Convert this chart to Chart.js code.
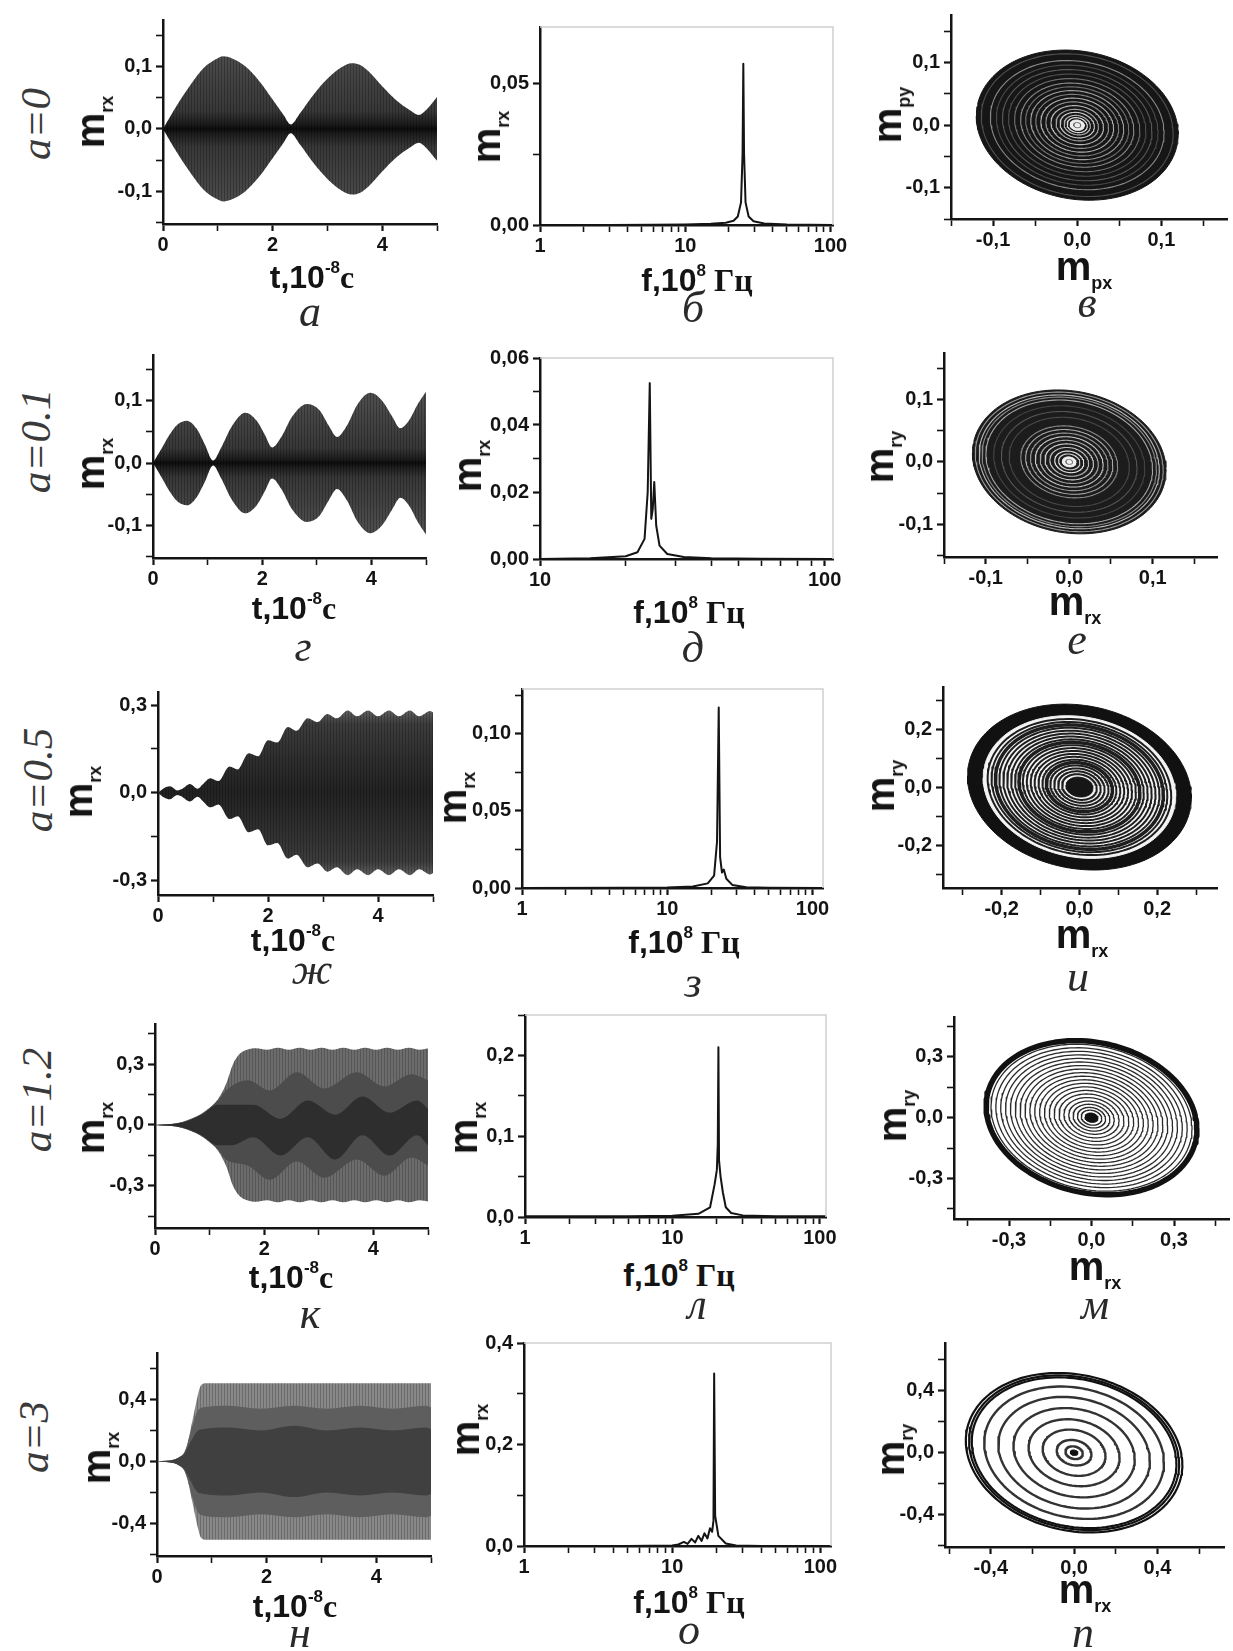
<!DOCTYPE html>
<html>
<head>
<meta charset="utf-8">
<script src="https://cdn.jsdelivr.net/npm/chart.js@4.4.1/dist/chart.umd.min.js"></script>
<style>
  body { margin: 0; background: #fff; }
  #page { position: relative; width: 1233px; height: 1651px; overflow: hidden; background: #fff; }
  canvas { position: absolute; }
  .txt { position: absolute; white-space: nowrap; line-height: 1; transform: translate(-50%, -50%); color: #141414; }
  .rot { transform: translate(-50%, -50%) rotate(-90deg); }
  .sans { font-family: "Liberation Sans", Arial, sans-serif; font-weight: bold; }
  .serif { font-family: "Liberation Serif", "Times New Roman", serif; font-weight: bold; }
  .row { font-family: "Liberation Serif", serif; font-style: italic; font-size: 43px; color: #3a3a3a; }
  .let { font-family: "Liberation Serif", serif; font-style: italic; font-size: 44px; color: #2a2a2a; }
  .m { font-size: 40px; }
  .sub { font-size: 18px; position: relative; top: 9px; }
  .sup { font-size: 17px; position: relative; top: -15px; }
  .tt { font-size: 32px; }
</style>
</head>
<body>
<div id="page"></div>
<script>
// ---------- time signals: upper envelope of m_rx, t in 10^-8 s ----------
const tA   = [0, 0.25, 0.5, 0.75, 1.0, 1.1, 1.25, 1.5, 1.75, 2.0, 2.2, 2.33, 2.5, 2.75, 3.0, 3.25, 3.45, 3.6, 3.75, 4.0, 4.25, 4.5, 4.67, 4.8, 5.0];
const envA = [0, 0.037, 0.07, 0.098, 0.113, 0.116, 0.113, 0.1, 0.077, 0.047, 0.022, 0.007, 0.025, 0.055, 0.08, 0.098, 0.105, 0.102, 0.092, 0.068, 0.046, 0.03, 0.022, 0.03, 0.051];

const tG   = [0, 0.15, 0.3, 0.45, 0.62, 0.8, 0.95, 1.1, 1.25, 1.45, 1.69, 1.9, 2.05, 2.18, 2.35, 2.55, 2.82, 3.05, 3.22, 3.37, 3.55, 3.75, 3.98, 4.2, 4.38, 4.53, 4.7, 4.85, 5.0];
const envG = [0, 0.022, 0.045, 0.062, 0.068, 0.055, 0.03, 0.004, 0.025, 0.06, 0.081, 0.068, 0.045, 0.025, 0.042, 0.075, 0.095, 0.085, 0.06, 0.042, 0.06, 0.095, 0.113, 0.1, 0.075, 0.056, 0.07, 0.095, 0.115];

const tZh   = [0, 0.1, 0.22, 0.35, 0.45, 0.58, 0.72, 0.82, 0.95, 1.1, 1.3, 1.45, 1.65, 1.82, 2.0, 2.17, 2.36, 2.52, 2.72, 2.9, 3.08, 3.25, 3.45, 3.62, 3.82, 4.0, 4.2, 4.38, 4.58, 4.75, 4.95, 5.0];
const envZh = [0, 0.015, 0.022, 0.008, 0.015, 0.03, 0.014, 0.03, 0.05, 0.04, 0.09, 0.08, 0.135, 0.125, 0.18, 0.172, 0.225, 0.212, 0.255, 0.242, 0.27, 0.255, 0.282, 0.262, 0.282, 0.262, 0.282, 0.262, 0.282, 0.262, 0.28, 0.275];

const tK   = [0, 0.3, 0.5, 0.7, 0.85, 1.0, 1.15, 1.3, 1.43, 1.55, 1.7, 1.85, 2.05, 2.25, 2.45, 2.65, 2.85, 3.05, 3.25, 3.45, 3.65, 3.85, 4.05, 4.25, 4.45, 4.65, 4.85, 5.0];
const envK = [0, 0.005, 0.015, 0.035, 0.055, 0.085, 0.125, 0.2, 0.3, 0.35, 0.372, 0.378, 0.37, 0.38, 0.37, 0.38, 0.37, 0.38, 0.37, 0.38, 0.37, 0.38, 0.37, 0.38, 0.37, 0.38, 0.37, 0.376];
const tKmid  = [0, 0.5, 0.85, 1.15, 1.3, 1.7, 2.1, 2.6, 3.1, 3.7, 4.2, 4.7, 5.0];
const kMidUp = [0, 0.013, 0.053, 0.12, 0.17, 0.22, 0.17, 0.26, 0.18, 0.26, 0.19, 0.25, 0.22];
const kMidLo = [0, -0.013, -0.053, -0.12, -0.17, -0.2, -0.27, -0.18, -0.26, -0.17, -0.25, -0.16, -0.2];
const tKcore  = [0, 0.5, 0.85, 1.15, 1.4, 1.8, 2.3, 2.8, 3.3, 3.8, 4.3, 4.8, 5.0];
const kCoreUp = [0, 0.012, 0.05, 0.1, 0.1, 0.1, 0.03, 0.12, 0.05, 0.14, 0.06, 0.12, 0.08];
const kCoreLo = [0, -0.012, -0.05, -0.1, -0.1, -0.06, -0.15, -0.06, -0.17, -0.05, -0.15, -0.05, -0.1];

const tN   = [0, 0.2, 0.32, 0.42, 0.5, 0.56, 0.62, 0.68, 0.74, 0.8, 0.9, 1.5, 2.0, 2.5, 3.0, 3.5, 4.0, 4.5, 5.0];
const envN = [0, 0.004, 0.012, 0.03, 0.06, 0.12, 0.22, 0.32, 0.42, 0.49, 0.505, 0.505, 0.505, 0.505, 0.505, 0.505, 0.505, 0.505, 0.505];
const tNin  = [0, 0.32, 0.42, 0.5, 0.56, 0.62, 0.68, 0.75, 0.85, 1.3, 1.9, 2.5, 3.1, 3.7, 4.3, 4.9, 5.0];
const nMid  = [0, 0.012, 0.03, 0.06, 0.12, 0.2, 0.27, 0.33, 0.35, 0.36, 0.34, 0.36, 0.34, 0.36, 0.34, 0.36, 0.35];
const nCore = [0, 0.012, 0.03, 0.05, 0.09, 0.13, 0.17, 0.2, 0.21, 0.22, 0.2, 0.23, 0.2, 0.22, 0.2, 0.22, 0.21];

// ---------- spectra, f in 10^8 Hz ----------
const fB    = [1, 3, 6, 10, 15, 19, 21.5, 23, 24.2, 24.8, 25.1, 25.4, 26, 27.3, 29.5, 35, 50, 104];
const specB = [0, 0, 0.0001, 0.0002, 0.0004, 0.0008, 0.0015, 0.003, 0.008, 0.025, 0.057, 0.025, 0.008, 0.003, 0.0013, 0.0005, 0.0002, 0];
const fD    = [10, 15, 20, 22, 23.3, 23.9, 24.3, 24.6, 24.9, 25.2, 25.6, 26.3, 28, 32, 40, 60, 107];
const specD = [0, 0.0002, 0.0008, 0.002, 0.006, 0.02, 0.0525, 0.012, 0.015, 0.023, 0.01, 0.004, 0.0015, 0.0006, 0.0002, 0.0001, 0];
const fZ    = [1, 5, 10, 15, 19, 21, 22, 22.6, 23.1, 23.8, 24.5, 25.5, 28, 35, 50, 120];
const specZ = [0, 0.0001, 0.0003, 0.001, 0.003, 0.008, 0.03, 0.117, 0.02, 0.01, 0.012, 0.006, 0.002, 0.0005, 0.0002, 0];
const fL    = [1, 5, 10, 15, 18, 19.3, 20, 20.3, 20.5, 20.7, 21.2, 22, 23, 25, 30, 50, 110];
const specL = [0.001, 0.001, 0.0015, 0.004, 0.012, 0.04, 0.058, 0.09, 0.21, 0.07, 0.05, 0.03, 0.012, 0.005, 0.002, 0.001, 0.001];
const fO    = [1, 5, 10, 11, 12, 12.7, 13.5, 14.3, 15, 15.8, 16.5, 17.3, 18, 18.6, 19, 19.2, 19.5, 20.5, 23, 27, 40, 118];
const specO = [0, 0, 0.001, 0.003, 0.008, 0.004, 0.014, 0.007, 0.02, 0.01, 0.025, 0.015, 0.035, 0.028, 0.05, 0.34, 0.06, 0.02, 0.005, 0.001, 0, 0];

// ---------- phase portraits: outer orbit half-axes, phase lag, loop radii (fraction of outer) ----------
const orbV = [0.12, 0.12];   const lagV = 0.12;
const ringsV = [0.95, 0.86, 0.8, 0.74, 0.68, 0.62, 0.56, 0.51, 0.46, 0.41, 0.36, 0.31, 0.26, 0.21, 0.17, 0.13, 0.1];
const orbE = [0.116, 0.115]; const lagE = 0.12;
const ringsE = [0.97, 0.93, 0.9, 0.86, 0.78, 0.7, 0.62, 0.5, 0.45, 0.4, 0.35, 0.3, 0.25, 0.2, 0.15, 0.11];
const orbI = [0.288, 0.286]; const lagI = 0.13;
const ringsI = [0.82, 0.785, 0.75, 0.715, 0.68, 0.645, 0.61, 0.575, 0.54, 0.505, 0.47, 0.435, 0.4, 0.365, 0.33, 0.295, 0.26, 0.225, 0.19, 0.155];
const orbM = [0.393, 0.39];  const lagM = 0.15;
const ringsM = [0.975, 0.93, 0.885, 0.84, 0.795, 0.75, 0.705, 0.66, 0.615, 0.57, 0.525, 0.48, 0.435, 0.39, 0.345, 0.3, 0.255, 0.21, 0.17, 0.13, 0.095];
const orbP = [0.52, 0.516];  const lagP = 0.15;
const ringsP = [1.0, 0.97, 0.945, 0.83, 0.7, 0.56, 0.42, 0.29, 0.16, 0.08];

// ---------- ticks ----------
const ticksT = [0, 2, 4],            minorT = [1, 3, 5];
const ticksLog = [1, 10, 100],       minorLog = [2, 3, 4, 5, 6, 7, 8, 9, 20, 30, 40, 50, 60, 70, 80, 90];
const ticks01 = [-0.1, 0, 0.1],      minor01 = [-0.15, -0.05, 0.05, 0.15];
const ticksB = [0, 0.05],            minorB = [0.025];
const ticksD = [0, 0.02, 0.04, 0.06], minorD = [0.01, 0.03, 0.05];
const ticks03 = [-0.3, 0, 0.3],      minor03 = [-0.45, -0.15, 0.15, 0.45];
const ticksZ = [0, 0.05, 0.1],       minorZ = [0.025, 0.075, 0.125];
const ticks02 = [-0.2, 0, 0.2],      minor02 = [-0.3, -0.1, 0.1, 0.3];
const ticksL = [0, 0.1, 0.2],        minorL = [0.05, 0.15, 0.25];
const ticks04 = [-0.4, 0, 0.4],      minor04 = [-0.6, -0.2, 0.2, 0.6];
const ticksO = [0, 0.2, 0.4],        minorO = [0.1, 0.3];

// ---------- layout ----------
const YW = 62, XH = 36, PT = 16, PR = 26, PB = 2;
const INK = '#141414';
const TICK_FONT = { family: '"Liberation Sans", Arial, sans-serif', size: 20, weight: 'bold' };
const page = document.getElementById('page');

function fmt(v, d) {
  if (d === null) return String(v);
  return (Math.abs(v) < 1e-9 ? 0 : v).toFixed(d).replace('.', ',');
}

function axis(pos, type, min, max, major, minor, dec) {
  const list = major.concat(minor).filter(v => v >= min - 1e-9 && v <= max + 1e-9).sort((a, b) => a - b);
  const isMajor = v => major.some(m => Math.abs(m - v) < 1e-9);
  return {
    type: type, position: pos, min: min, max: max,
    afterBuildTicks: s => { s.ticks = list.map(v => ({ value: v })); },
    afterFit: s => {
      if (pos === 'left') s.width = YW; else s.height = XH;
      s.paddingLeft = s.paddingRight = s.paddingTop = s.paddingBottom = 0;
    },
    ticks: {
      autoSkip: false, maxRotation: 0, minRotation: 0, padding: pos === 'left' ? 4 : 2,
      color: INK, font: TICK_FONT,
      callback: v => isMajor(v) ? fmt(v, dec) : ''
    },
    grid: {
      drawOnChartArea: false, drawTicks: true, tickLength: 7, tickColor: INK,
      tickWidth: c => (c.tick && isMajor(c.tick.value)) ? 2.2 : 1.6
    },
    border: { display: true, color: INK, width: 2.5 }
  };
}

// light frame on the top and right of the spectrum panels
const framePlugin = {
  id: 'frame',
  afterDatasetsDraw(chart) {
    const { ctx, chartArea: a } = chart;
    ctx.save();
    ctx.strokeStyle = '#cfcfcf';
    ctx.lineWidth = 1.5;
    ctx.beginPath();
    ctx.moveTo(a.left, a.top);
    ctx.lineTo(a.right, a.top);
    ctx.lineTo(a.right, a.bottom);
    ctx.stroke();
    ctx.restore();
  }
};

function makeChart(box, xAx, yAx, datasets, framed) {
  const [L, T, R, B] = box;
  const w = R - L + YW + PR, h = B - T + PT + XH + PB;
  const cv = document.createElement('canvas');
  cv.width = w; cv.height = h;
  cv.style.left = (L - YW) + 'px'; cv.style.top = (T - PT) + 'px';
  cv.style.width = w + 'px'; cv.style.height = h + 'px';
  page.appendChild(cv);
  return new Chart(cv, {
    type: 'line',
    data: { datasets: datasets },
    options: {
      responsive: false, animation: false, devicePixelRatio: 1,
      layout: { padding: { left: 0, top: PT, right: PR, bottom: PB } },
      plugins: { legend: { display: false }, tooltip: { enabled: false }, title: { display: false } },
      elements: { point: { radius: 0, hoverRadius: 0 }, line: { borderCapStyle: 'round', borderJoinStyle: 'round' } },
      events: [],
      scales: { x: xAx, y: yAx }
    },
    plugins: framed ? [framePlugin] : []
  });
}

// ---------- dataset builders ----------
let ord = 1000;
const pts = (xs, ys) => xs.map((x, i) => ({ x: x, y: ys[i] }));
const neg = a => a.map(v => -v);

function band(xs, up, lo, color) {
  const o = ord--;
  return [
    { data: pts(xs, up), fill: '+1', backgroundColor: color, borderColor: 'transparent', borderWidth: 0, order: o, cubicInterpolationMode: 'monotone' },
    { data: pts(xs, lo), fill: false, borderColor: 'transparent', borderWidth: 0, order: o, cubicInterpolationMode: 'monotone' }
  ];
}

function vGrad(stops, vTop, vBot) {
  return c => {
    const ch = c.chart;
    if (!ch.chartArea || !ch.scales.y) return stops[0][1];
    const y = ch.scales.y;
    const g = ch.ctx.createLinearGradient(0, y.getPixelForValue(vTop), 0, y.getPixelForValue(vBot));
    stops.forEach(s => g.addColorStop(s[0], s[1]));
    return g;
  };
}

function stripes(alpha) {
  const c = document.createElement('canvas');
  c.width = 3; c.height = 4;
  const g = c.getContext('2d');
  g.fillStyle = 'rgba(0,0,0,' + alpha + ')';
  g.fillRect(0, 0, 1, 4);
  return g.createPattern(c, 'repeat');
}

const NSEG = 140;
function loop(orb, lag, f) {
  const p = [];
  for (let k = 0; k <= NSEG; k++) {
    const th = 2 * Math.PI * k / NSEG;
    p.push({ x: f * orb[0] * Math.cos(th), y: f * orb[1] * Math.sin(th - lag) });
  }
  return p;
}
function halfLoop(orb, lag, f, upper) {
  const p = [];
  for (let k = 0; k <= NSEG / 2; k++) {
    const th = (upper ? 0 : Math.PI) + Math.PI * k / (NSEG / 2);
    p.push({ x: f * orb[0] * Math.cos(th), y: f * orb[1] * Math.sin(th - lag) });
  }
  return p.sort((a, b) => a.x - b.x);
}
function disc(orb, lag, f, color) {
  const o = ord--;
  return [
    { data: halfLoop(orb, lag, f, true), fill: '+1', backgroundColor: color, borderColor: color, borderWidth: 1, order: o },
    { data: halfLoop(orb, lag, f, false), fill: false, borderColor: color, borderWidth: 1, order: o }
  ];
}
function ring(orb, lag, f, color, width) {
  return { data: loop(orb, lag, f), fill: false, borderColor: color, borderWidth: width, order: ord-- };
}
function spectrum(fs, ss) {
  return [{ data: pts(fs, ss), fill: false, borderColor: INK, borderWidth: 2, order: ord-- }];
}

// ---------- text ----------
function put(html, x, y, cls) {
  const d = document.createElement('div');
  d.className = 'txt ' + cls;
  d.innerHTML = html;
  d.style.left = x + 'px'; d.style.top = y + 'px';
  page.appendChild(d);
}
const yTitle = s => '<span class="m">m</span><span class="sub">' + s + '</span>';
const tTitle = '<span class="tt">t,10</span><span class="sup">-8</span><span class="tt serif">с</span>';
const fTitle = '<span class="tt">f,10</span><span class="sup">8</span><span class="tt serif"> Гц</span>';

// ---------- shared fills ----------
const darkA = [[0, '#4c4c4c'], [0.38, '#383838'], [0.47, '#1c1c1c'], [0.5, '#0c0c0c'], [0.53, '#1c1c1c'], [0.62, '#383838'], [1, '#4c4c4c']];
const darkZh = [[0, '#5e5e5e'], [0.08, '#3c3c3c'], [0.3, '#2e2e2e'], [0.5, '#222'], [0.7, '#2e2e2e'], [0.92, '#3c3c3c'], [1, '#5e5e5e']];

// ===== row 1: a = 0 =====
makeChart([163, 20, 437, 224],
  axis('bottom', 'linear', 0, 5, ticksT, minorT, 0),
  axis('left', 'linear', -0.152, 0.174, ticks01, minor01, 1),
  [].concat(band(tA, envA, neg(envA), vGrad(darkA, 0.12, -0.12)), band(tA, envA, neg(envA), stripes(0.25))));

makeChart([540, 27, 833, 225],
  axis('bottom', 'logarithmic', 1, 104, ticksLog, minorLog, null),
  axis('left', 'linear', 0, 0.07, ticksB, minorB, 2),
  spectrum(fB, specB), true);

const shadesV = ['#505050', '#8a8a8a', '#4a4a4a', '#5a5a5a', '#4e4e4e', '#6e6e6e', '#8c8c8c', '#707070', '#a0a0a0', '#808080', '#b0b0b0', '#909090', '#b8b8b8', '#a0a0a0', '#c8c8c8', '#b0b0b0', '#d8d8d8'];
makeChart([951, 15, 1227, 219],
  axis('bottom', 'linear', -0.15, 0.178, ticks01, minor01, 1),
  axis('left', 'linear', -0.15, 0.176, ticks01, minor01, 1),
  [].concat(disc(orbV, lagV, 1.0, '#161616'),
            ringsV.map((f, i) => ring(orbV, lagV, f, shadesV[i], 1.1)),
            disc(orbV, lagV, 0.07, '#ececec'),
            [ring(orbV, lagV, 0.035, '#666', 1)]));

// ===== row 2: a = 0.1 =====
makeChart([153, 355, 426, 558],
  axis('bottom', 'linear', 0, 5, ticksT, minorT, 0),
  axis('left', 'linear', -0.153, 0.174, ticks01, minor01, 1),
  [].concat(band(tG, envG, neg(envG), vGrad(darkA, 0.1, -0.1)), band(tG, envG, neg(envG), stripes(0.25))));

makeChart([540, 358, 833, 559],
  axis('bottom', 'logarithmic', 10, 107, ticksLog, minorLog, null),
  axis('left', 'linear', 0, 0.06, ticksD, minorD, 2),
  spectrum(fD, specD), true);

const shadesE = ['#9a9a9a', '#bbbbbb', '#8a8a8a', '#a8a8a8', '#444444', '#555555', '#484848', '#8a8a8a', '#aaaaaa', '#999999', '#c8c8c8', '#aaaaaa', '#cccccc', '#bbbbbb', '#dddddd', '#cccccc'];
makeChart([944, 353, 1217, 557],
  axis('bottom', 'linear', -0.15, 0.177, ticks01, minor01, 1),
  axis('left', 'linear', -0.152, 0.174, ticks01, minor01, 1),
  [].concat(disc(orbE, lagE, 1.0, '#1c1c1c'),
            ringsE.map((f, i) => ring(orbE, lagE, f, shadesE[i], 1.1)),
            disc(orbE, lagE, 0.07, '#f0f0f0'),
            [ring(orbE, lagE, 0.035, '#777', 1)]));

// ===== row 3: a = 0.5 =====
makeChart([158, 692, 433, 895],
  axis('bottom', 'linear', 0, 5, ticksT, minorT, 0),
  axis('left', 'linear', -0.35, 0.345, ticks03, minor03, 1),
  [].concat(band(tZh, envZh, neg(envZh), vGrad(darkZh, 0.28, -0.28)), band(tZh, envZh, neg(envZh), stripes(0.22))));

makeChart([522, 689, 823, 888],
  axis('bottom', 'logarithmic', 1, 118, ticksLog, minorLog, null),
  axis('left', 'linear', 0, 0.129, ticksZ, minorZ, 2),
  spectrum(fZ, specZ), true);

const boldI = [0.75, 0.54, 0.295];
makeChart([943, 687, 1217, 888],
  axis('bottom', 'linear', -0.351, 0.354, ticks02, minor02, 1),
  axis('left', 'linear', -0.348, 0.345, ticks02, minor02, 1),
  [].concat(disc(orbI, lagI, 1.0, '#111'),
            disc(orbI, lagI, 0.86, '#f4f4f4'),
            ringsI.map(f => ring(orbI, lagI, f, '#1e1e1e', boldI.includes(f) ? 3.5 : 2)),
            disc(orbI, lagI, 0.12, '#161616')));

// ===== row 4: a = 1.2 =====
makeChart([155, 1024, 428, 1228],
  axis('bottom', 'linear', 0, 5, ticksT, minorT, 0),
  axis('left', 'linear', -0.507, 0.497, ticks03, minor03, 1),
  [].concat(band(tK, envK, neg(envK), '#6c6c6c'),
            band(tK, envK, neg(envK), stripes(0.2)),
            band(tKmid, kMidUp, kMidLo, '#4c4c4c'),
            band(tKcore, kCoreUp, kCoreLo, '#2e2e2e')));

makeChart([525, 1015, 826, 1217],
  axis('bottom', 'logarithmic', 1, 110, ticksLog, minorLog, null),
  axis('left', 'linear', 0, 0.25, ticksL, minorL, 1),
  spectrum(fL, specL), true);

makeChart([954, 1017, 1229, 1219],
  axis('bottom', 'linear', -0.5, 0.5, ticks03, minor03, 1),
  axis('left', 'linear', -0.5, 0.497, ticks03, minor03, 1),
  [].concat(ringsM.map((f, i) => ring(orbM, lagM, f, i === 0 ? '#111' : '#2a2a2a', i === 0 ? 5.5 : 1.3)),
            disc(orbM, lagM, 0.06, '#111')));

// ===== row 5: a = 3 =====
makeChart([157, 1353, 431, 1556],
  axis('bottom', 'linear', 0, 5, ticksT, minorT, 0),
  axis('left', 'linear', -0.61, 0.7, ticks04, minor04, 1),
  [].concat(band(tN, envN, neg(envN), '#888888'),
            band(tN, envN, neg(envN), stripes(0.2)),
            band(tNin, nMid, neg(nMid), '#5e5e5e'),
            band(tNin, nCore, neg(nCore), '#404040')));

makeChart([524, 1343, 831, 1546],
  axis('bottom', 'logarithmic', 1, 118, ticksLog, minorLog, null),
  axis('left', 'linear', 0, 0.4, ticksO, minorO, 1),
  spectrum(fO, specO), true);

makeChart([945, 1343, 1224, 1547],
  axis('bottom', 'linear', -0.62, 0.72, ticks04, minor04, 1),
  axis('left', 'linear', -0.61, 0.71, ticks04, minor04, 1),
  [].concat(ringsP.map((f, i) => ring(orbP, lagP, f, i < 3 ? '#111' : '#333', i < 3 ? 2.2 : 2.4)),
            disc(orbP, lagP, 0.035, '#111')));

// ---------- axis titles, row labels, panel letters ----------
put('a=0',   35, 124,  'row rot');
put('a=0.1', 35, 441,  'row rot');
put('a=0.5', 37, 780,  'row rot');
put('a=1.2', 36, 1100, 'row rot');
put('a=3',   33, 1437, 'row rot');

put(yTitle('rx'), 90, 122,  'sans rot');
put(yTitle('rx'), 486, 137, 'sans rot');
put(yTitle('py'), 887, 115, 'sans rot');
put(yTitle('rx'), 90, 464,  'sans rot');
put(yTitle('rx'), 467, 466, 'sans rot');
put(yTitle('ry'), 879, 457, 'sans rot');
put(yTitle('rx'), 78, 792,  'sans rot');
put(yTitle('rx'), 452, 798, 'sans rot');
put(yTitle('ry'), 880, 786, 'sans rot');
put(yTitle('rx'), 90, 1128, 'sans rot');
put(yTitle('rx'), 463, 1128,'sans rot');
put(yTitle('ry'), 892, 1116,'sans rot');
put(yTitle('rx'), 96, 1458, 'sans rot');
put(yTitle('rx'), 465, 1430,'sans rot');
put(yTitle('ry'), 890, 1450,'sans rot');

put(tTitle, 312, 277,  'sans');
put(fTitle, 697, 280,  'sans');
put(yTitle('px'), 1084, 266, 'sans');
put(tTitle, 294, 608,  'sans');
put(fTitle, 689, 612,  'sans');
put(yTitle('rx'), 1075, 601, 'sans');
put(tTitle, 293, 940,  'sans');
put(fTitle, 684, 942,  'sans');
put(yTitle('rx'), 1082, 934, 'sans');
put(tTitle, 291, 1277, 'sans');
put(fTitle, 679, 1275, 'sans');
put(yTitle('rx'), 1095, 1266, 'sans');
put(tTitle, 295, 1606, 'sans');
put(fTitle, 689, 1602, 'sans');
put(yTitle('rx'), 1085, 1589, 'sans');

const letters = [['а', 310, 312], ['б', 693, 308], ['в', 1087, 303],
                 ['г', 303, 647], ['д', 693, 648], ['е', 1077, 640],
                 ['ж', 312, 970], ['з', 693, 983], ['и', 1078, 977],
                 ['к', 310, 1314], ['л', 697, 1305], ['м', 1095, 1305],
                 ['н', 300, 1633], ['о', 689, 1630], ['п', 1083, 1633]];
letters.forEach(l => put(l[0], l[1], l[2], 'let'));
</script>
</body>
</html>
